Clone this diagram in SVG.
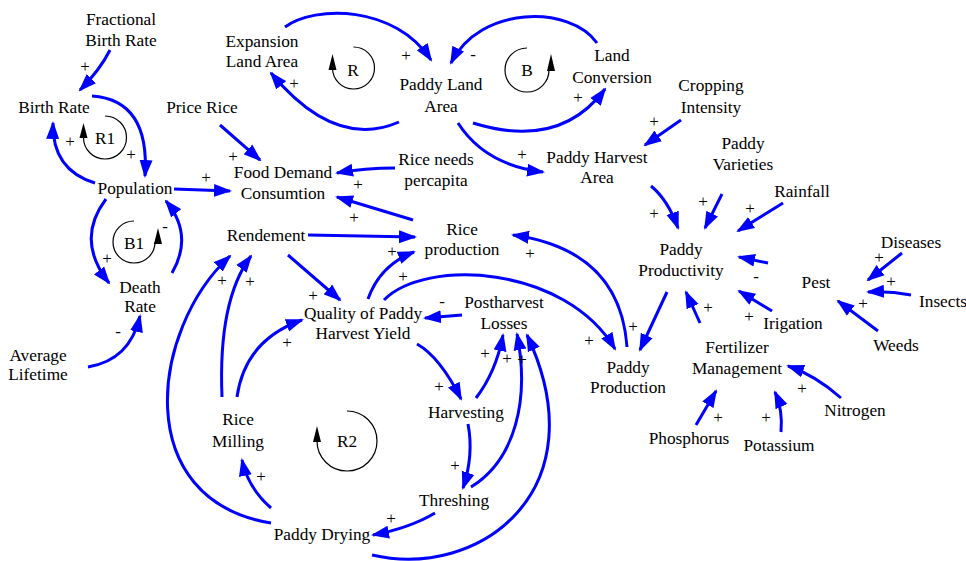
<svg xmlns="http://www.w3.org/2000/svg" width="966" height="561" viewBox="0 0 966 561" font-family="Liberation Serif, Times New Roman, DejaVu Serif, serif">
<style>
text{font-family:"Liberation Serif","Times New Roman","DejaVu Serif",serif;font-size:17.3px;fill:#000;text-anchor:middle}
.pol{font-size:17px}
.c{fill:none;stroke:#0000FF;stroke-width:3;marker-end:url(#ah)}
.loop{fill:none;stroke:#000;stroke-width:1.2}
.lh{fill:#000;stroke:none}
</style>
<defs>
<marker id="ah" markerUnits="userSpaceOnUse" viewBox="0 0 18 14" markerWidth="18" markerHeight="14" refX="16" refY="7" orient="auto">
<path d="M0,0.5 L18,7 L0,13.5 z" fill="#0000FF"/>
</marker>
</defs>
<rect width="966" height="561" fill="#fff"/>
<g id="connectors">
<path class="c" d="M110,50 Q100,70 80,90"/>
<path class="c" d="M92,96 Q150,100 145,176"/>
<path class="c" d="M95,183 Q52,170 53,123"/>
<path class="c" d="M174,189 L230,191"/>
<path class="c" d="M220,125 L260,160"/>
<path class="c" d="M395,168 Q365,168 337,173"/>
<path class="c" d="M413,220 L337,197"/>
<path class="c" d="M399,122 Q335,150 271,73"/>
<path class="c" d="M285,27 C315,5 395,5 431,60"/>
<path class="c" d="M597,43 C570,5 480,5 451,63"/>
<path class="c" d="M473,123 Q560,150 605,89"/>
<path class="c" d="M458,123 Q485,165 543,172"/>
<path class="c" d="M681,120 L645,145"/>
<path class="c" d="M651,186 Q668,200 678,228"/>
<path class="c" d="M722,194 L705,228"/>
<path class="c" d="M783,203 L738,231"/>
<path class="c" d="M768,263 L739,257"/>
<path class="c" d="M902,253 L868,280"/>
<path class="c" d="M911,295 Q890,291 868,292"/>
<path class="c" d="M878,331 L838,301"/>
<path class="c" d="M772,311 L739,291"/>
<path class="c" d="M700,323 L686,292"/>
<path class="c" d="M667,292 L640,350"/>
<path class="c" d="M384,300 C425,258 565,265 615,349"/>
<path class="c" d="M627,347 Q620,250 513,235"/>
<path class="c" d="M841,398 Q815,375 788,366"/>
<path class="c" d="M696,425 L716,391"/>
<path class="c" d="M781,432 Q783,410 775,392"/>
<path class="c" d="M308,235 L415,237"/>
<path class="c" d="M288,255 L340,300"/>
<path class="c" d="M368,299 Q380,265 414,252"/>
<path class="c" d="M462,315 L425,318"/>
<path class="c" d="M417,344 Q440,357 461,399"/>
<path class="c" d="M476,398 Q496,372 503,335"/>
<path class="c" d="M468,424 Q474,455 463,488"/>
<path class="c" d="M471,487 C515,460 530,400 517,334"/>
<path class="c" d="M372,555 C480,580 600,490 527,335"/>
<path class="c" d="M435,513 Q410,528 373,535"/>
<path class="c" d="M271,508 Q248,488 242,460"/>
<path class="c" d="M271,523 C130,500 150,330 230,256"/>
<path class="c" d="M222,397 Q218,300 251,256"/>
<path class="c" d="M237,397 Q245,340 302,320"/>
<path class="c" d="M106,199 Q75,240 109,283"/>
<path class="c" d="M172,273 Q194,235 166,201"/>
<path class="c" d="M88,367 Q130,360 140,316"/>
</g>
<g id="polarities">
<text class="pol" x="85" y="72">+</text>
<text class="pol" x="131" y="160">+</text>
<text class="pol" x="70" y="147">+</text>
<text class="pol" x="206" y="183">+</text>
<text class="pol" x="233" y="162">+</text>
<text class="pol" x="294" y="89">+</text>
<text class="pol" x="406" y="61">+</text>
<text class="pol" x="473" y="60">-</text>
<text class="pol" x="578" y="103">+</text>
<text class="pol" x="522" y="160">+</text>
<text class="pol" x="358" y="190">+</text>
<text class="pol" x="654" y="127">+</text>
<text class="pol" x="654" y="219">+</text>
<text class="pol" x="703" y="207">+</text>
<text class="pol" x="750" y="214">+</text>
<text class="pol" x="756" y="282">-</text>
<text class="pol" x="879" y="263">+</text>
<text class="pol" x="891" y="287">+</text>
<text class="pol" x="863" y="309">+</text>
<text class="pol" x="749" y="322">+</text>
<text class="pol" x="708" y="313">+</text>
<text class="pol" x="633" y="332">+</text>
<text class="pol" x="589" y="346">+</text>
<text class="pol" x="530" y="259">+</text>
<text class="pol" x="802" y="394">+</text>
<text class="pol" x="718" y="423">+</text>
<text class="pol" x="766" y="423">+</text>
<text class="pol" x="354" y="223">+</text>
<text class="pol" x="392" y="257">+</text>
<text class="pol" x="403" y="282">+</text>
<text class="pol" x="313" y="301">+</text>
<text class="pol" x="442" y="307">-</text>
<text class="pol" x="222" y="286">+</text>
<text class="pol" x="250" y="287">+</text>
<text class="pol" x="287" y="348">+</text>
<text class="pol" x="439" y="392">+</text>
<text class="pol" x="485" y="359">+</text>
<text class="pol" x="507" y="364">+</text>
<text class="pol" x="522" y="365">+</text>
<text class="pol" x="455" y="471">+</text>
<text class="pol" x="391" y="524">+</text>
<text class="pol" x="261" y="482">+</text>
<text class="pol" x="107" y="264">+</text>
<text class="pol" x="165" y="232">-</text>
<text class="pol" x="118" y="337">-</text>
</g>
<g id="loop-R1"><path class="loop" d="M105,116 A21.5,21.5 0 1 1 83.5,137.5"/><polygon class="lh" points="83.5,123 79.5,138 87.5,138"/><text x="105" y="144">R1</text></g>
<g id="loop-R"><path class="loop" d="M353.5,47 A21,21 0 1 1 332.5,68"/><polygon class="lh" points="332.5,54 328.5,70 336.5,70"/><text x="353" y="76">R</text></g>
<g id="loop-B"><path class="loop" d="M527,48 A22,22 0 1 0 549,70"/><polygon class="lh" points="551,54 547,71 555,71"/><text x="527" y="76">B</text></g>
<g id="loop-B1"><path class="loop" d="M134,221 A21,21 0 1 0 155,242"/><polygon class="lh" points="158,228 154,244 162,244"/><text x="134" y="249">B1</text></g>
<g id="loop-R2"><path class="loop" d="M347,411 A30,30 0 1 1 317,441"/><polygon class="lh" points="317,426 313,442 321,442"/><text x="347" y="447">R2</text></g>
<g id="n-fractional-birth-rate"><text x="121" y="25">Fractional</text><text x="121" y="46">Birth Rate</text></g>
<g id="n-birth-rate"><text x="54" y="113">Birth Rate</text></g>
<g id="n-price-rice"><text x="202" y="113">Price Rice</text></g>
<g id="n-population"><text x="135" y="194">Population</text></g>
<g id="n-food-demand"><text x="283" y="178">Food Demand</text><text x="283" y="199">Consumtion</text></g>
<g id="n-expansion-land-area"><text x="262" y="47">Expansion</text><text x="262" y="67">Land Area</text></g>
<g id="n-paddy-land-area"><text x="441" y="90">Paddy Land</text><text x="441" y="112">Area</text></g>
<g id="n-land-conversion"><text x="612" y="61">Land</text><text x="612" y="83">Conversion</text></g>
<g id="n-cropping-intensity"><text x="711" y="91">Cropping</text><text x="711" y="113">Intensity</text></g>
<g id="n-paddy-harvest-area"><text x="597" y="163">Paddy Harvest</text><text x="597" y="183">Area</text></g>
<g id="n-rice-needs"><text x="436" y="165">Rice needs</text><text x="436" y="186">percapita</text></g>
<g id="n-paddy-varieties"><text x="743" y="149">Paddy</text><text x="743" y="170">Varieties</text></g>
<g id="n-rainfall"><text x="802" y="197">Rainfall</text></g>
<g id="n-paddy-productivity"><text x="681" y="255">Paddy</text><text x="681" y="276">Productivity</text></g>
<g id="n-diseases"><text x="911" y="248">Diseases</text></g>
<g id="n-pest"><text x="816" y="288">Pest</text></g>
<g id="n-insects"><text x="943" y="307">Insects</text></g>
<g id="n-weeds"><text x="896" y="351">Weeds</text></g>
<g id="n-irigation"><text x="793" y="329">Irigation</text></g>
<g id="n-fertilizer"><text x="737" y="353">Fertilizer</text><text x="737" y="374">Management</text></g>
<g id="n-nitrogen"><text x="855" y="416">Nitrogen</text></g>
<g id="n-phosphorus"><text x="689" y="444">Phosphorus</text></g>
<g id="n-potassium"><text x="779" y="451">Potassium</text></g>
<g id="n-paddy-production"><text x="628" y="373">Paddy</text><text x="628" y="393">Production</text></g>
<g id="n-rice-production"><text x="462" y="235">Rice</text><text x="462" y="255">production</text></g>
<g id="n-rendement"><text x="266" y="241">Rendement</text></g>
<g id="n-quality"><text x="363" y="319">Quality of Paddy</text><text x="363" y="339">Harvest Yield</text></g>
<g id="n-postharvest-losses"><text x="504" y="308">Postharvest</text><text x="504" y="329">Losses</text></g>
<g id="n-death-rate"><text x="140" y="293">Death</text><text x="140" y="312">Rate</text></g>
<g id="n-average-lifetime"><text x="38" y="361">Average</text><text x="38" y="380">Lifetime</text></g>
<g id="n-rice-milling"><text x="238" y="425">Rice</text><text x="238" y="447">Milling</text></g>
<g id="n-harvesting"><text x="466" y="418">Harvesting</text></g>
<g id="n-threshing"><text x="454" y="506">Threshing</text></g>
<g id="n-paddy-drying"><text x="322" y="540">Paddy Drying</text></g>
</svg>
